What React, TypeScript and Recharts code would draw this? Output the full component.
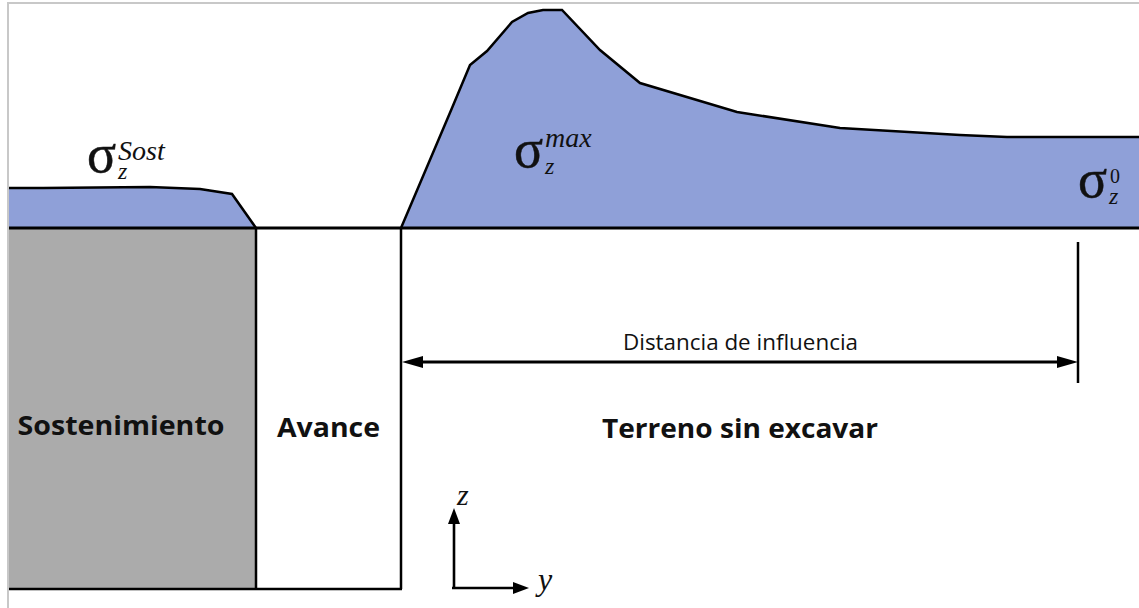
import {
  Area,
  ComposedChart,
  ReferenceArea,
  ReferenceDot,
  ReferenceLine,
  XAxis,
  YAxis,
} from "recharts";

// Vertical stress σz along the tunnel axis (y). Units are drawing units,
// with the excavation contour at σz = 0 and depth below it negative.
const supportPos = [8, 43, 150, 200, 232, 256];
const supportStress = [40, 40, 41, 39, 34, 0];

const groundPos = [401, 452, 470, 487, 512, 528, 543, 562, 600, 640, 737, 840, 960, 1007, 1139];
const groundStress = [0, 120, 163, 177, 206, 215, 218, 218, 178, 145, 116, 100, 93, 91, 91];

// zone limits along y
const liningStart = 8;
const faceStart = 256;
const faceEnd = 401;
const influenceEnd = 1078;
const sectionEnd = 1139;
const sectionDepth = -361;

const BLUE = "#8FA0D8";
const GREY = "#ABABAB";
const SERIF = "'Liberation Serif', 'DejaVu Serif', serif";
const SANS = "'Open Sans', 'Noto Sans', sans-serif";

const rows = [
  ...supportPos.map((pos, i) => ({ pos, sost: supportStress[i], ground: null as number | null })),
  ...groundPos.map((pos, i) => ({ pos, sost: null as number | null, ground: groundStress[i] })),
];

function head(x1: number, y1: number, x2: number, y2: number, len: number, half: number) {
  const dx = x2 - x1;
  const dy = y2 - y1;
  const d = Math.hypot(dx, dy) || 1;
  const ux = dx / d;
  const uy = dy / d;
  const bx = x2 - ux * len;
  const by = y2 - uy * len;
  return `${x2},${y2} ${bx - uy * half},${by + ux * half} ${bx + uy * half},${by - ux * half}`;
}

function doubleArrow(p: any) {
  const { x1, y1, x2, y2 } = p;
  return (
    <g>
      <line x1={x1 + 10} y1={y1} x2={x2 - 10} y2={y2} stroke="#000" strokeWidth={3} />
      <polygon points={head(x2, y2, x1, y1, 21, 6)} fill="#000" />
      <polygon points={head(x1, y1, x2, y2, 21, 6)} fill="#000" />
    </g>
  );
}

function axisArrow(p: any) {
  const { x1, y1, x2, y2 } = p;
  const dx = Math.sign(x2 - x1);
  const dy = Math.sign(y2 - y1);
  return (
    <g>
      <line x1={x1 - dx} y1={y1 - dy} x2={x2 - dx * 10} y2={y2 - dy * 10} stroke="#000" strokeWidth={2.6} />
      <polygon points={head(x1, y1, x2, y2, 16, 6)} fill="#000" />
    </g>
  );
}

// σ_z with a superscript, set as one text run; offsets are from the σ baseline origin
function sigma(sup: string, supItalic: boolean, supDx: number, supDy: number, supSize: number) {
  return (p: any) => (
    <text x={p.cx} y={p.cy} fontFamily={SERIF} fontSize={54} fill="#111" stroke="#111" strokeWidth={0.5}>
      σ
      <tspan x={p.cx + 31} y={p.cy + 7} fontStyle="italic" fontSize={24} strokeWidth={0}>
        z
      </tspan>
      <tspan
        x={p.cx + supDx}
        y={p.cy + supDy}
        fontStyle={supItalic ? "italic" : "normal"}
        fontSize={supSize}
        strokeWidth={0}
      >
        {sup}
      </tspan>
    </text>
  );
}

function caption(text: string, width: number, size: number, weight: number) {
  return (p: any) => (
    <text
      x={p.cx}
      y={p.cy}
      textAnchor="middle"
      fontFamily={SANS}
      fontWeight={weight}
      fontSize={size}
      fill="#111"
      textLength={width}
      lengthAdjust="spacingAndGlyphs"
    >
      {text}
    </text>
  );
}

function italicLetter(ch: string, size: number) {
  return (p: any) => (
    <text x={p.cx} y={p.cy} fontFamily={SERIF} fontStyle="italic" fontSize={size} fill="#111">
      {ch}
    </text>
  );
}

export default function App() {
  return (
    <div style={{ position: "absolute", left: 0, top: 0, width: 1139, height: 608, background: "#fff" }}>
      <ComposedChart width={1139} height={608} data={rows} margin={{ top: 0, right: 0, bottom: 0, left: 0 }}>
        <XAxis dataKey="pos" type="number" domain={[0, 1139]} hide allowDataOverflow />
        <YAxis type="number" domain={[-380, 228]} hide allowDataOverflow />

        {/* lining zone */}
        <ReferenceArea
          x1={liningStart}
          x2={faceStart}
          y1={sectionDepth}
          y2={0}
          fill={GREY}
          fillOpacity={1}
          stroke="none"
        />

        <Area
          dataKey="sost"
          type="linear"
          baseValue={0}
          stroke="#000"
          strokeWidth={2.5}
          fill={BLUE}
          fillOpacity={1}
          dot={false}
          activeDot={false}
          isAnimationActive={false}
        />
        <Area
          dataKey="ground"
          type="linear"
          baseValue={0}
          stroke="#000"
          strokeWidth={2.5}
          fill={BLUE}
          fillOpacity={1}
          dot={false}
          activeDot={false}
          isAnimationActive={false}
        />

        {/* excavation contour and section outline */}
        <ReferenceLine segment={[{ x: liningStart, y: 0 }, { x: sectionEnd, y: 0 }]} stroke="#000" strokeWidth={3} />
        <ReferenceLine segment={[{ x: liningStart, y: sectionDepth }, { x: faceEnd + 1, y: sectionDepth }]} stroke="#000" strokeWidth={2.5} />
        <ReferenceLine segment={[{ x: faceStart, y: 0 }, { x: faceStart, y: sectionDepth }]} stroke="#000" strokeWidth={2.5} />
        <ReferenceLine segment={[{ x: faceEnd, y: 0 }, { x: faceEnd, y: sectionDepth }]} stroke="#000" strokeWidth={2.5} />
        <ReferenceLine segment={[{ x: influenceEnd, y: -14 }, { x: influenceEnd, y: -155 }]} stroke="#000" strokeWidth={2.5} />

        {/* influence distance */}
        <ReferenceLine segment={[{ x: faceEnd + 1, y: -134 }, { x: influenceEnd, y: -134 }]} shape={doubleArrow} />

        {/* y-z axes */}
        <ReferenceLine segment={[{ x: 454, y: -360 }, { x: 454, y: -280 }]} shape={axisArrow} />
        <ReferenceLine segment={[{ x: 453, y: -360 }, { x: 529, y: -360 }]} shape={axisArrow} />
        <ReferenceDot x={457} y={-277} r={0} shape={italicLetter("z", 30)} />
        <ReferenceDot x={538} y={-362} r={0} shape={italicLetter("y", 32)} />

        {/* stress labels */}
        <ReferenceDot x={87} y={56} r={0} shape={sigma("Sost", true, 31, -12, 28)} />
        <ReferenceDot x={514} y={61} r={0} shape={sigma("max", true, 31, -20, 28)} />
        <ReferenceDot x={1078} y={31} r={0} shape={sigma("0", false, 32, -14, 20)} />

        {/* zone captions */}
        <ReferenceDot x={121} y={-207} r={0} shape={caption("Sostenimiento", 207, 27, 700)} />
        <ReferenceDot x={328.5} y={-209} r={0} shape={caption("Avance", 103, 27, 700)} />
        <ReferenceDot x={740} y={-210} r={0} shape={caption("Terreno sin excavar", 276, 27, 700)} />
        <ReferenceDot x={740.5} y={-122} r={0} shape={caption("Distancia de influencia", 235, 21, 400)} />
      </ComposedChart>
      {/* picture frame */}
      <div
        style={{
          position: "absolute",
          left: 7,
          top: 2,
          right: -4,
          bottom: -4,
          borderLeft: "2px solid #C8C8C8",
          borderTop: "2px solid #C8C8C8",
          pointerEvents: "none",
        }}
      />
    </div>
  );
}
